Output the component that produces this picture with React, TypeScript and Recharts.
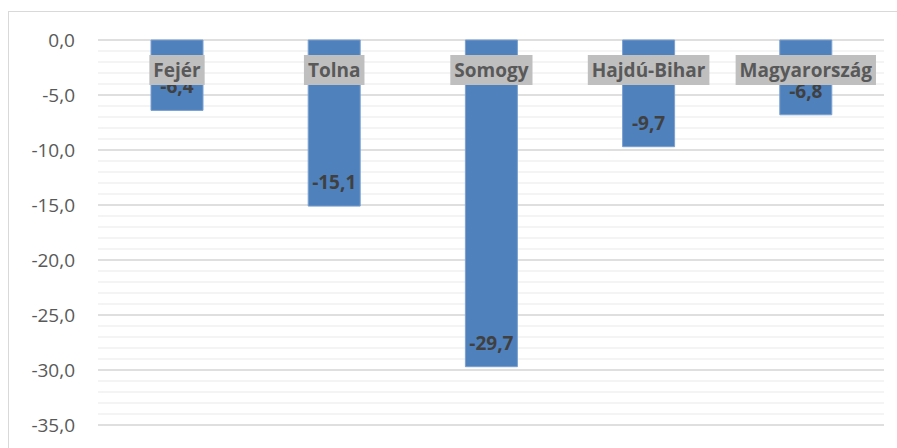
import { useLayoutEffect, useRef, useState } from "react";
import {
  BarChart,
  Bar,
  XAxis,
  YAxis,
  CartesianGrid,
  LabelList,
} from "recharts";

const categories = ["Fejér", "Tolna", "Somogy", "Hajdú-Bihar", "Magyarország"];
const changes = [-6.4, -15.1, -29.7, -9.7, -6.8];
const yTicks = [0, -5, -10, -15, -20, -25, -30, -35];
const yMin = -35;
// light gridlines every 1 unit
const minorTicks = Array.from({ length: 36 }, (_, i) => -i);

const data = categories.map((name, i) => ({ name, value: changes[i] }));

const FONT = "'Open Sans', sans-serif";

const fmt = (v: number) => v.toFixed(1).replace(".", ",");

const boxOf = (props: any) => {
  const vb = props.viewBox ?? props;
  const x = Number(vb.x);
  const y = Number(vb.y);
  const w = Number(vb.width);
  const h = Number(vb.height);
  return {
    cx: x + w / 2,
    top: Math.min(y, y + h),
    bottom: Math.max(y, y + h),
  };
};

const ValueLabel = (props: any) => {
  const { cx, bottom } = boxOf(props);
  return (
    <text
      x={cx}
      y={bottom - 24}
      textAnchor="middle"
      dominantBaseline="central"
      fontFamily={FONT}
      fontSize={19}
      fontWeight={700}
      fill="#404040"
    >
      {fmt(Number(props.value))}
    </text>
  );
};

const CategoryTag = ({ cx, cy, text }: { cx: number; cy: number; text: string }) => {
  const ref = useRef<SVGTextElement>(null);
  const [w, setW] = useState(text.length * 11);
  useLayoutEffect(() => {
    if (ref.current) setW(ref.current.getComputedTextLength());
  }, [text]);
  const padX = 4;
  return (
    <g>
      <rect x={cx - w / 2 - padX} y={cy - 15} width={w + padX * 2} height={30} fill="#bfbfbf" />
      <text
        ref={ref}
        x={cx}
        y={cy}
        textAnchor="middle"
        dominantBaseline="central"
        fontFamily={FONT}
        fontSize={19}
        fontWeight={700}
        fill="#595959"
      >
        {text}
      </text>
    </g>
  );
};

const NameLabel = (props: any) => {
  const { cx, top } = boxOf(props);
  return <CategoryTag cx={cx} cy={top + 30} text={String(props.value)} />;
};

export default function App() {
  return (
    <>
      <style>{`body{margin:0;background:#fff}`}</style>
      <div
        style={{
          position: "absolute",
          left: 8,
          top: 11,
          width: 889,
          height: 437,
          borderTop: "1px solid #d9d9d9",
          borderLeft: "1px solid #d9d9d9",
          boxSizing: "border-box",
          overflow: "hidden",
        }}
      >
        <BarChart
          width={888}
          height={436}
          data={data}
          margin={{ top: 28, right: 13, bottom: 23, left: 0 }}
        >
          <CartesianGrid
            vertical={false}
            stroke="#f0f0f0"
            strokeWidth={1.5}
            horizontalCoordinatesGenerator={({ offset }: any) =>
              minorTicks.map((v) => offset.top + (v / yMin) * offset.height)
            }
          />
          <CartesianGrid vertical={false} stroke="#d9d9d9" strokeWidth={1.5} />
          <XAxis dataKey="name" hide />
          <YAxis
            width={89}
            domain={[yMin, 0]}
            ticks={yTicks}
            tickFormatter={fmt}
            axisLine={false}
            tickLine={false}
            tickSize={0}
            tickMargin={23}
            tick={{ fontSize: 19, fill: "#595959", fontFamily: FONT }}
          />
          <Bar
            dataKey="value"
            fill="#4F81BD"
            stroke="#7aa0cf"
            strokeWidth={1}
            barSize={52}
            isAnimationActive={false}
          >
            <LabelList dataKey="value" content={ValueLabel} />
            <LabelList dataKey="name" content={NameLabel} />
          </Bar>
        </BarChart>
      </div>
    </>
  );
}
